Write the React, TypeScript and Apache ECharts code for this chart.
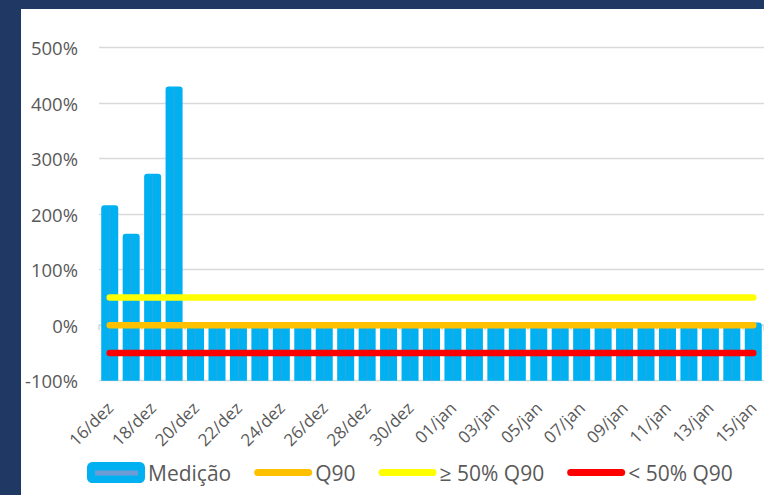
import React, { useEffect, useRef } from "react";
import * as echarts from "echarts";

const categories = [
  "16/dez", "17/dez", "18/dez", "19/dez", "20/dez", "21/dez", "22/dez", "23/dez",
  "24/dez", "25/dez", "26/dez", "27/dez", "28/dez", "29/dez", "30/dez", "31/dez",
  "01/jan", "02/jan", "03/jan", "04/jan", "05/jan", "06/jan", "07/jan", "08/jan",
  "09/jan", "10/jan", "11/jan", "12/jan", "13/jan", "14/jan", "15/jan",
];
const medicao = [216, 165, 273, 430, 0, 0, 0, 0, 0, 0, 0, 0, 0, 0, 0, 0, 0, 0, 0, 0, 0, 0, 0, 0, 0, 0, 0, 0, 0, 0, 5];
const q90 = categories.map(() => 0);
const acima50 = categories.map(() => 50);
const abaixo50 = categories.map(() => -50);
const yMin = -100;
const yMax = 500;
const yInterval = 100;

const FONT = "Open Sans";
const TEXT = "#595959";
const LINE_ICON = "path://M3.5,0 L54.5,0 A3.5,3.5 0 0 1 54.5,7 L3.5,7 A3.5,3.5 0 0 1 3.5,0 Z";

export default function App() {
  const ref = useRef<HTMLDivElement>(null);
  useEffect(() => {
    const chart = echarts.init(ref.current!, undefined, { renderer: "svg" });
    const lineSeries = (name: string, data: number[], color: string) => ({
      name,
      type: "line",
      data,
      symbol: "none",
      z: 5,
      lineStyle: { color, width: 6.5, cap: "round" },
      itemStyle: { color },
    });
    chart.setOption({
      animation: false,
      backgroundColor: "#ffffff",
      textStyle: { fontFamily: FONT },
      grid: { left: 99, top: 47.7, width: 666, height: 333 },
      xAxis: {
        type: "category",
        data: categories,
        boundaryGap: true,
        axisLine: { show: true, lineStyle: { color: "#D9D9D9", width: 1.5 } },
        axisTick: { show: true, interval: 1, length: 5, lineStyle: { color: "#D9D9D9", width: 1.5 } },
        axisLabel: { interval: 1, rotate: 45, margin: 24, color: TEXT, fontSize: 17, fontFamily: FONT },
        splitLine: { show: false },
      },
      yAxis: {
        type: "value",
        min: yMin,
        max: yMax,
        interval: yInterval,
        startValue: yMin,
        axisLine: { show: false },
        axisTick: { show: false },
        axisLabel: { formatter: "{value}%", color: TEXT, fontSize: 18.5, margin: 21, fontFamily: FONT },
        splitLine: { lineStyle: { color: "#D9D9D9", width: 1.3 } },
      },
      legend: {
        left: 87,
        top: 462,
        padding: 0,
        itemWidth: 58,
        itemHeight: 21,
        itemGap: 23,
        textStyle: { color: TEXT, fontSize: 21, fontFamily: FONT, padding: [0, 0, 0, -2] },
        data: [
          { name: "Medição", icon: "roundRect", itemStyle: { color: "#00B0F0" } },
          { name: "Q90", icon: LINE_ICON, itemStyle: { color: "#FFC000" } },
          { name: "≥ 50% Q90", icon: LINE_ICON, itemStyle: { color: "#FFFF00" } },
          { name: "< 50% Q90", icon: LINE_ICON, itemStyle: { color: "#FF0000" } },
        ],
      },
      series: [
        {
          name: "Medição",
          type: "bar",
          data: medicao,
          barWidth: 17,
          z: 2,
          itemStyle: { color: "#00B0F0", borderRadius: [3, 3, 0, 0] },
        },
        {
          name: "stripe",
          type: "custom",
          z: 3,
          silent: true,
          data: medicao.map((v, i) => [i, v]),
          renderItem: (params: any, api: any) => {
            const top = api.coord([api.value(0), api.value(1)]);
            const bottom = api.coord([api.value(0), yMin]);
            return {
              type: "line",
              shape: { x1: top[0], y1: top[1] + 3, x2: bottom[0], y2: bottom[1] },
              style: { stroke: "rgba(110,150,200,0.45)", lineWidth: 1 },
            };
          },
        },
        lineSeries("Q90", q90, "#FFC000"),
        lineSeries("≥ 50% Q90", acima50, "#FFFF00"),
        lineSeries("< 50% Q90", abaixo50, "#FF0000"),
      ],
      graphic: [
        { type: "rect", left: 95, top: 470.5, shape: { width: 43, height: 5 }, style: { fill: "#6E9BD3" }, z: 100 },
        { type: "rect", left: 0, top: 0, shape: { width: 764, height: 9 }, style: { fill: "#1F3864" }, z: 100 },
        { type: "rect", left: 0, top: 0, shape: { width: 21, height: 495 }, style: { fill: "#1F3864" }, z: 100 },
      ],
    });
    return () => chart.dispose();
  }, []);
  return (
    <div
      ref={ref}
      style={{ position: "fixed", left: 0, top: 0, width: 764, height: 495 }}
    />
  );
}
